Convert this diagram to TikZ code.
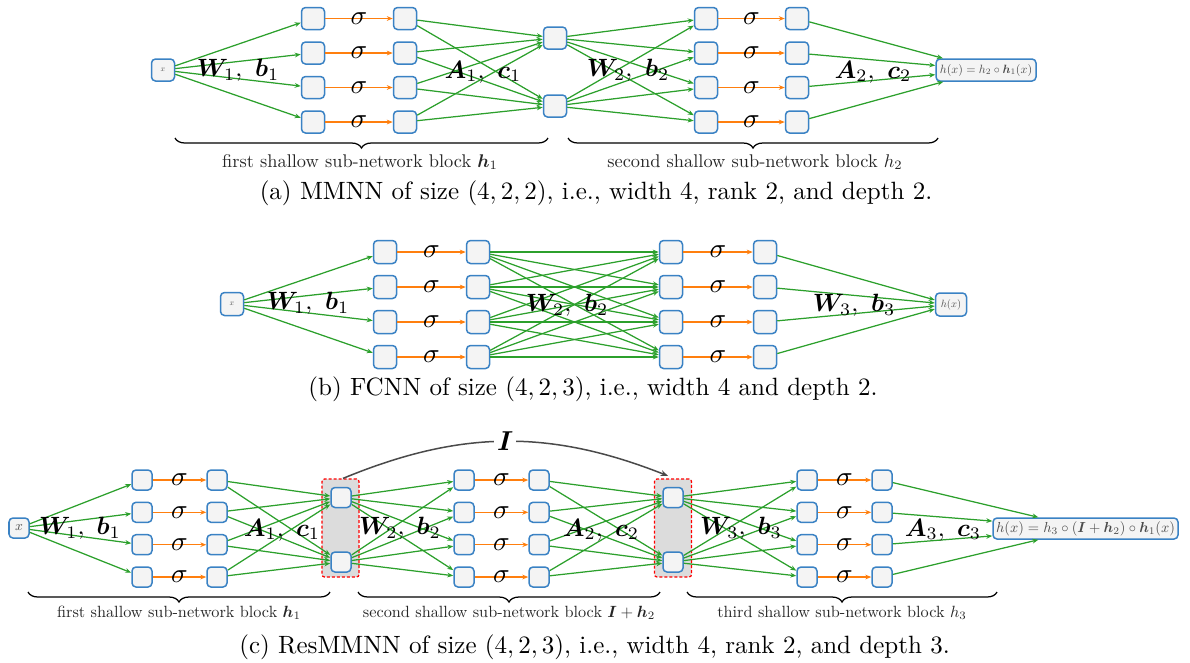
\documentclass[tikz,border=0pt]{standalone}
\usepackage{graphicx}
\usepackage{amsmath,bm}
\usetikzlibrary{arrows.meta,decorations.pathreplacing,calc}
\definecolor{nblue}{HTML}{3A82C4}
\definecolor{nfill}{HTML}{F4F4F4}
\definecolor{egreen}{HTML}{2CA02C}
\definecolor{eorange}{HTML}{FF7F0E}
\definecolor{resgray}{HTML}{DCDCDC}
\definecolor{arcgray}{HTML}{4A4A4A}
\tikzset{
  unitbox/.style={draw=nblue, fill=nfill, line width=0.6pt, rounded corners=1.6pt, inner sep=0.6pt, font=\fontsize{10}{12}\selectfont, text=black!70},
  boxA/.style={unitbox, minimum width=9.2pt, minimum height=8.8pt},
  boxB/.style={unitbox, minimum width=9.2pt, minimum height=9.2pt},
  boxC/.style={unitbox, minimum width=8pt, minimum height=8pt},
  resgroup/.style={draw=red, dashed, dash pattern=on 1.2pt off 0.8pt, fill=resgray, line width=0.5pt, rounded corners=1pt, minimum width=14.8pt, minimum height=39.2pt, inner sep=0pt},
  garrow/.style={egreen, line width=0.5pt, -{Stealth[length=2.4pt,width=1.9pt]}},
  oarrow/.style={eorange, line width=0.6pt, -{Stealth[length=2.4pt,width=1.9pt]}},
  sig/.style={font=\fontsize{10.5}{12}\selectfont, text=black, inner sep=0pt},
  wlab/.style={font=\fontsize{10.3}{12}\selectfont, text=black, inner sep=0pt},
  wlabc/.style={font=\fontsize{9.6}{11}\selectfont, text=black, inner sep=0pt},
  brc/.style={decorate, decoration={brace, mirror, amplitude=4pt}, line width=0.5pt},
  brlab/.style={font=\fontsize{10}{12}\selectfont, text=black!85, inner sep=0pt},
  capt/.style={font=\fontsize{10}{12}\selectfont, inner sep=0pt},
}
\begin{document}
\begin{tikzpicture}[x=0.4pt,y=0.4pt]
\useasboundingbox (0,0) rectangle (1190,-662);

% ================= (a) =================
\node[boxA] (ax) at (163,-70) {\scalebox{0.32}{$x$}};
\foreach \i/\y in {1/18.5,2/53,3/87.5,4/122} {
  \node[boxA] (a1-\i) at (313,-\y) {};
  \node[boxA] (a2-\i) at (405,-\y) {};
  \node[boxA] (a3-\i) at (706,-\y) {};
  \node[boxA] (a4-\i) at (797,-\y) {};
}
\node[boxA] (ar-1) at (555,-38) {};
\node[boxA] (ar-2) at (555,-106) {};
\node[unitbox, minimum width=40pt, minimum height=8.8pt] (ay) at (986,-70) {\scalebox{0.48}{$h(x)=h_2\circ\bm{h}_1(x)$}};
\foreach \i in {1,...,4} {
  \draw[garrow] (ax) -- (a1-\i);
  \draw[oarrow] (a1-\i) -- node[sig]{$\sigma$} (a2-\i);
  \draw[oarrow] (a3-\i) -- node[sig]{$\sigma$} (a4-\i);
  \draw[garrow] (a4-\i) -- (ay);
  \foreach \j in {1,2} {
    \draw[garrow] (a2-\i) -- (ar-\j);
    \draw[garrow] (ar-\j) -- (a3-\i);
  }
}
\node[wlab] (la1) at (238,-70) {$\bm{W}_1,\ \bm{b}_1$};
\node[wlab] (la2) at (483,-72) {$\bm{A}_1,\ \bm{c}_1$};
\node[wlab] (la3) at (628,-70) {$\bm{W}_2,\ \bm{b}_2$};
\node[wlab] (la4) at (873,-72) {$\bm{A}_2,\ \bm{c}_2$};
\coordinate (abr1s) at (175,-138); \coordinate (abr1e) at (548,-138);
\coordinate (abr2s) at (568,-138); \coordinate (abr2e) at (938,-138);
\draw[brc] (abr1s) -- (abr1e);
\draw[brc] (abr2s) -- (abr2e);
\node[brlab] (ba1) at (360,-162) {\scalebox{0.735}{first shallow sub-network block $\bm{h}_1$}};
\node[brlab] (ba2) at (755,-162) {\scalebox{0.735}{second shallow sub-network block $h_2$}};
\node[capt] (capa) at (596,-193) {(a) MMNN of size $(4,2,2)$, i.e., width 4, rank 2, and depth 2.};

% ================= (b) =================
\node[boxB] (bx) at (232,-304) {\scalebox{0.32}{$x$}};
\foreach \i/\y in {1/252,2/287,3/322,4/357} {
  \node[boxB] (b1-\i) at (385,-\y) {};
  \node[boxB] (b2-\i) at (478,-\y) {};
  \node[boxB] (b3-\i) at (671,-\y) {};
  \node[boxB] (b4-\i) at (765,-\y) {};
}
\node[unitbox, minimum width=12.4pt, minimum height=9.2pt] (by) at (951,-304.5) {\scalebox{0.42}{$h(x)$}};
\foreach \i in {1,...,4} {
  \draw[garrow] (bx) -- (b1-\i);
  \draw[oarrow] (b1-\i) -- node[sig]{$\sigma$} (b2-\i);
  \draw[oarrow] (b3-\i) -- node[sig]{$\sigma$} (b4-\i);
  \draw[garrow] (b4-\i) -- (by);
  \foreach \j in {1,...,4} {
    \draw[garrow] (b2-\i) -- (b3-\j);
  }
}
\node[wlab] (lb1) at (308,-303) {$\bm{W}_1,\ \bm{b}_1$};
\node[wlab] (lb2) at (567,-305) {$\bm{W}_2,\ \bm{b}_2$};
\node[wlab] (lb3) at (854,-305) {$\bm{W}_3,\ \bm{b}_3$};
\node[capt] (capb) at (593,-389) {(b) FCNN of size $(4,2,3)$, i.e., width 4 and depth 2.};

% ================= (c) =================
\node[resgroup] (g1) at (340.5,-528) {};
\node[resgroup] (g2) at (673,-528) {};
\node[boxC] (cx) at (19,-528) {\scalebox{0.55}{$x$}};
\foreach \i/\y in {1/480,2/512.3,3/544.7,4/577} {
  \node[boxC] (c1-\i) at (142,-\y) {};
  \node[boxC] (c2-\i) at (217,-\y) {};
  \node[boxC] (c3-\i) at (464,-\y) {};
  \node[boxC] (c4-\i) at (539,-\y) {};
  \node[boxC] (c5-\i) at (807,-\y) {};
  \node[boxC] (c6-\i) at (882,-\y) {};
}
\node[boxC] (cr1-1) at (341,-497.5) {};
\node[boxC] (cr1-2) at (341,-562) {};
\node[boxC] (cr2-1) at (673,-497.5) {};
\node[boxC] (cr2-2) at (673,-562) {};
\node[unitbox, minimum width=74pt, minimum height=8.4pt] (cy) at (1085.5,-528.5) {\scalebox{0.58}{$h(x)=h_3\circ(\bm{I}+\bm{h}_2)\circ\bm{h}_1(x)$}};
\foreach \i in {1,...,4} {
  \draw[garrow] (cx) -- (c1-\i);
  \draw[oarrow] (c1-\i) -- node[sig]{$\sigma$} (c2-\i);
  \draw[oarrow] (c3-\i) -- node[sig]{$\sigma$} (c4-\i);
  \draw[oarrow] (c5-\i) -- node[sig]{$\sigma$} (c6-\i);
  \draw[garrow] (c6-\i) -- (cy);
  \foreach \j in {1,2} {
    \draw[garrow] (c2-\i) -- (cr1-\j);
    \draw[garrow] (cr1-\j) -- (c3-\i);
    \draw[garrow] (c4-\i) -- (cr2-\j);
    \draw[garrow] (cr2-\j) -- (c5-\i);
  }
}
\draw[arcgray, line width=0.6pt, -{Stealth[length=3pt,width=2.4pt]}] ([xshift=1pt]g1.north) to[bend left=22] node[fill=white, text=black, inner sep=1.2pt, font=\fontsize{10.5}{12}\selectfont] (ilab) {$\bm{I}$} ([xshift=-2pt,yshift=1pt]g2.north);
\node[wlabc] (lc1) at (80,-528) {$\bm{W}_1,\ \bm{b}_1$};
\node[wlabc] (lc2) at (282,-530) {$\bm{A}_1,\ \bm{c}_1$};
\node[wlabc] (lc3) at (400,-528) {$\bm{W}_2,\ \bm{b}_2$};
\node[wlabc] (lc4) at (601,-530) {$\bm{A}_2,\ \bm{c}_2$};
\node[wlabc] (lc5) at (741,-528) {$\bm{W}_3,\ \bm{b}_3$};
\node[wlabc] (lc6) at (943,-530) {$\bm{A}_3,\ \bm{c}_3$};
\coordinate (cbr1s) at (28,-592); \coordinate (cbr1e) at (330,-592);
\coordinate (cbr2s) at (358,-592); \coordinate (cbr2e) at (660,-592);
\coordinate (cbr3s) at (687,-592); \coordinate (cbr3e) at (997,-592);
\draw[brc] (cbr1s) -- (cbr1e);
\draw[brc] (cbr2s) -- (cbr2e);
\draw[brc] (cbr3s) -- (cbr3e);
\node[brlab] (bc1) at (179,-613) {\scalebox{0.65}{first shallow sub-network block $\bm{h}_1$}};
\node[brlab] (bc2) at (509,-613) {\scalebox{0.65}{second shallow sub-network block $\bm{I}+\bm{h}_2$}};
\node[brlab] (bc3) at (842,-613) {\scalebox{0.65}{third shallow sub-network block $h_3$}};
\node[capt] (capc) at (594.5,-647) {(c) ResMMNN of size $(4,2,3)$, i.e., width 4, rank 2, and depth 3.};
\end{tikzpicture}
\end{document}
